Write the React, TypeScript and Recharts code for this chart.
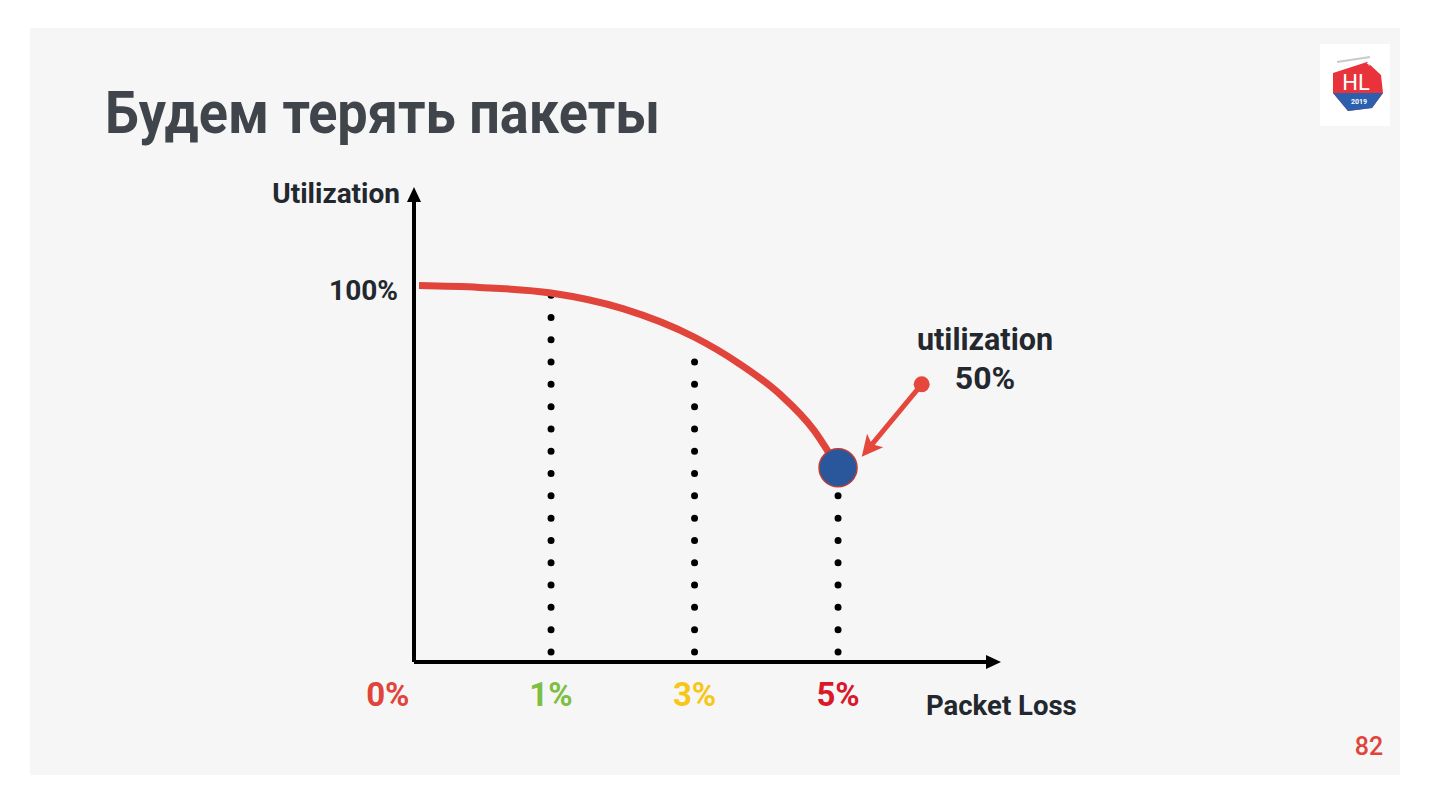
import React from 'react';
import { LineChart, Line, XAxis, YAxis, ReferenceLine, ReferenceDot } from 'recharts';

// Packet loss categories (placed at equal steps on the horizontal axis)
const lossTickPos = [0, 1, 2, 3];
const lossLabels = ['0%', '1%', '3%', '5%'];
const lossColors = ['#e0443a', '#7cbf42', '#f6c619', '#d9182a'];

// Utilization curve (x = step position, y = utilization %)
const curvePos = [0.08, 0.5, 1.0, 1.5, 2.0, 2.3, 2.6, 2.83, 3.0];
const curveUtil = [101.2, 100.7, 99.2, 95.0, 87.3, 80.5, 71.8, 62.4, 52.2];

// Y tick
const utilTicks = [100];
const utilTickLabels = ['100%'];

// Dotted drop lines from each loss value up to the curve
const dropPos = [1, 2, 3];
const dropTop = [99.0, 80.7, 45.0];
const dropBottom = 2.7;

// Highlighted point: 5% loss -> ~50% utilization
const markerPos = 3.0;
const markerUtil = 52.2;

// Callout arrow (from label dot to highlighted point)
const calloutFrom = { x: 3.583, y: 74.65 };
const calloutTo = { x: 3.165, y: 55.2 };

const chartData = curvePos.map((p, i) => ({ pos: p, util: curveUtil[i] }));

const FONT = 'Roboto, "Noto Sans", sans-serif';
const RED = '#e5473d';

const LossTick = (props: any) => {
  const { x, y, payload } = props;
  const i = lossTickPos.indexOf(payload.value);
  const first = i === 0;
  return (
    <text
      x={first ? x + 2 : x}
      y={y + 36}
      textAnchor={first ? 'end' : 'middle'}
      fill={lossColors[i]}
      fontFamily={FONT}
      fontWeight={700}
      fontSize={33}
    >
      {lossLabels[i]}
    </text>
  );
};

const UtilTick = (props: any) => {
  const { x, y, payload } = props;
  const i = utilTicks.indexOf(payload.value);
  return (
    <text x={x - 8} y={y + 10} textAnchor="end" fill="#23272e" fontFamily={FONT} fontWeight={700} fontSize={28}>
      {utilTickLabels[i]}
    </text>
  );
};

const CalloutArrow = (p: any) => {
  const { x1, y1, x2, y2 } = p;
  const dx = x2 - x1;
  const dy = y2 - y1;
  const len = Math.hypot(dx, dy);
  const ux = dx / len;
  const uy = dy / len;
  const head = 21;
  const half = 10.5;
  const bx = x2 - ux * head;
  const by = y2 - uy * head;
  const px = -uy;
  const py = ux;
  const nx = bx + ux * 5;
  const ny = by + uy * 5;
  return (
    <g>
      <circle cx={x1} cy={y1} r={8} fill={RED} />
      <line x1={x1} y1={y1} x2={nx} y2={ny} stroke={RED} strokeWidth={5} />
      <polygon
        points={`${x2},${y2} ${bx + px * half},${by + py * half} ${nx},${ny} ${bx - px * half},${by - py * half}`}
        fill={RED}
      />
    </g>
  );
};

const BluePoint = (p: any) => (
  <circle cx={p.cx} cy={p.cy} r={19} fill="#2a569b" stroke="#b8403c" strokeWidth={1.5} />
);

const Logo = () => (
  <svg width={70} height={82} style={{ position: 'absolute', left: 1320, top: 44 }}>
    <rect x={0} y={0} width={70} height={82} fill="#ffffff" />
    <line x1={17} y1={18} x2={50} y2={13} stroke="#c9c9c9" strokeWidth={2} />
    <polygon points="13,29 47,18 61,31 63,49 52,64 28,67 13,49" fill="#e8333a" />
    <polygon points="13,49 63,49 52,64 28,67" fill="#2c5fae" />
    <text x={36} y={46} textAnchor="middle" fill="#fff" fontFamily={FONT} fontSize={22} fontWeight={400}>HL</text>
    <text x={39} y={60} textAnchor="middle" fill="#fff" fontFamily={FONT} fontSize={7} fontWeight={700}>2019</text>
    <text x={47} y={22} fill="#fff" fontFamily={FONT} fontSize={8} fontWeight={700}>++</text>
  </svg>
);

export default function App() {
  return (
    <div style={{ position: 'absolute', left: 0, top: 0, width: 1430, height: 804, background: '#ffffff', overflow: 'hidden' }}>
      <svg width={0} height={0} style={{ position: 'absolute' }}>
        <defs>
          <marker id="axisArrow" markerUnits="userSpaceOnUse" markerWidth={16} markerHeight={14} refX={0} refY={7} orient="auto-start-reverse">
            <path d="M0,0 L15,7 L0,14 z" fill="#000" />
          </marker>
        </defs>
      </svg>
      <div style={{ position: 'absolute', left: 30, top: 28, width: 1370, height: 747, background: '#f6f6f6' }} />
      <div style={{ position: 'absolute', left: 0, top: 0 }}>
        <LineChart width={1430} height={804} data={chartData} margin={{ top: 202, right: 444, bottom: 82, left: 354 }}>
          <XAxis
            dataKey="pos"
            type="number"
            domain={[0.045, 4.031]}
            ticks={lossTickPos}
            interval={0}
            height={60}
            tickLine={false}
            axisLine={{ stroke: '#000', strokeWidth: 4, markerEnd: 'url(#axisArrow)' }}
            tick={<LossTick />}
            allowDataOverflow
          />
          <YAxis
            type="number"
            domain={[0, 123.66]}
            ticks={utilTicks}
            width={60}
            tickLine={false}
            axisLine={{ stroke: '#000', strokeWidth: 4, markerStart: 'url(#axisArrow)' }}
            tick={<UtilTick />}
            allowDataOverflow
          />
          {dropPos.map((p, i) => (
            <ReferenceLine
              key={'drop' + i}
              segment={[{ x: p, y: dropBottom }, { x: p, y: dropTop[i] }]}
              stroke="#000"
              strokeWidth={7}
              strokeDasharray="0 22.3"
              strokeLinecap="round"
              ifOverflow="visible"
            />
          ))}
          <Line
            type="monotone"
            dataKey="util"
            stroke="#e0443a"
            strokeWidth={7}
            dot={false}
            activeDot={false}
            isAnimationActive={false}
          />
          <ReferenceDot x={markerPos} y={markerUtil} r={19} shape={BluePoint} ifOverflow="visible" />
          <ReferenceLine segment={[calloutFrom, calloutTo]} shape={CalloutArrow} ifOverflow="visible" />
        </LineChart>
      </div>
      <svg width={1430} height={804} style={{ position: 'absolute', left: 0, top: 0, pointerEvents: 'none' }}>
        <text x={105} y={133} fill="#40454c" fontFamily={FONT} fontWeight={700} fontSize={59} textLength={555} lengthAdjust="spacingAndGlyphs">Будем терять пакеты</text>
        <text x={400} y={203} textAnchor="end" fill="#23272e" fontFamily={FONT} fontWeight={700} fontSize={28}>Utilization</text>
        <text x={926} y={715} fill="#23272e" fontFamily={FONT} fontWeight={700} fontSize={27.5}>Packet Loss</text>
        <text x={985} y={350} textAnchor="middle" fill="#23272e" fontFamily={FONT} fontWeight={700} fontSize={30.5}>utilization</text>
        <text x={985} y={389} textAnchor="middle" fill="#23272e" fontFamily={FONT} fontWeight={700} fontSize={32}>50%</text>
        <text x={1369} y={755} textAnchor="middle" fill="#e0443a" fontFamily={FONT} fontWeight={500} fontSize={25}>82</text>
      </svg>
      <Logo />
    </div>
  );
}
